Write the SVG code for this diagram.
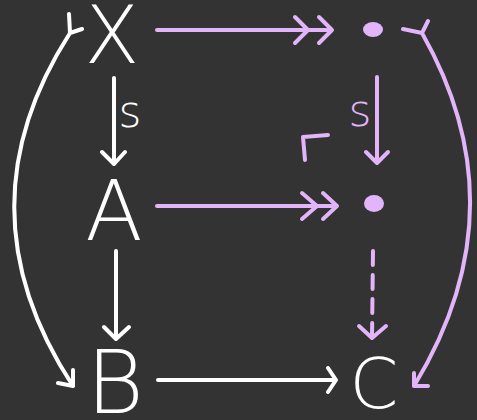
<svg xmlns="http://www.w3.org/2000/svg" width="477" height="420" viewBox="0 0 477 420">
<style>
.w{stroke:#ffffff;fill:none;stroke-width:4;stroke-linecap:round;stroke-linejoin:round}
.p{stroke:#e2b4fa;fill:none;stroke-width:4;stroke-linecap:round;stroke-linejoin:round}
.lbl{font-family:"DejaVu Sans","Liberation Sans",sans-serif;font-weight:200;fill:#ffffff;text-anchor:middle}
.sl{font-family:"DejaVu Sans","Liberation Sans",sans-serif;font-weight:300;text-anchor:middle;font-size:44px}
</style>
<rect width="477" height="420" fill="#333333"/>
<g id="node-X"><text class="lbl" x="112" y="63" font-size="80">X</text></g>
<g id="node-A"><text class="lbl" x="114" y="240" font-size="84">A</text></g>
<g id="node-B"><text class="lbl" x="115" y="413" font-size="88">B</text></g>
<g id="node-C"><text class="lbl" x="374" y="408" font-size="70">C</text></g>
<g id="node-P1"><ellipse cx="373" cy="29.5" rx="10" ry="7.5" fill="#e2b4fa"/></g>
<g id="node-P2"><ellipse cx="374" cy="203.5" rx="10" ry="8.5" fill="#e2b4fa"/></g>
<g id="connectors">
  <path class="p" d="M157 30 H332 M319 17 L332 30 L319 43 M295 17 L308 30 L295 43"/>
  <path class="p" d="M157 206 H337 M323 193 L337 206 L323 219 M302 193 L317 206 L302 219"/>
  <path class="w" d="M114 78 V164 M102 152 L114 164 L125 152"/>
  <text class="sl" x="130" y="127" fill="#ffffff">s</text>
  <path class="w" d="M116 251 V339 M104 327 L116 339 L129 327"/>
  <path class="w" d="M158 380 H336 M328 368 L336 380 L328 392"/>
  <path class="p" d="M377 77 V163 M366 152 L377 163 L388 152"/>
  <text class="sl" x="360" y="126" fill="#e2b4fa">s</text>
  <path class="p" d="M328 135 L303 137 L305 160"/>
  <path class="p" d="M373 251 L372 338" stroke-dasharray="14 10"/>
  <path class="p" d="M359 326 L372 338 L386 326"/>
  <path class="w" d="M70 33 Q-43 209 73 386 M69 14 L70 33 L82 29 M73 370 L73 386 L58 383"/>
  <path class="p" d="M422 33 Q522 209 414 386 M403 29 L422 33 L428 21 M414 373 L414 386 L428 386"/>
</g>
</svg>
